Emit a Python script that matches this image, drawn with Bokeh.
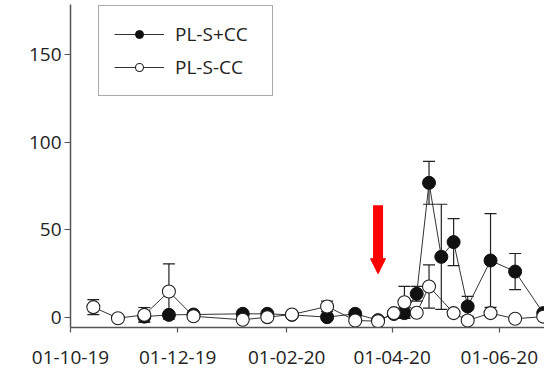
from datetime import datetime
import pandas as pd
from bokeh.plotting import figure
from bokeh.models import (ColumnDataSource, Range1d, FixedTicker, DatetimeTickFormatter,
                          Whisker, TeeHead, Legend, LegendItem, Arrow, NormalHead)
from bokeh.embed import file_html
from bokeh.resources import INLINE

# ---- data ----
with_cc_dates = ["2019-11-12", "2019-11-26", "2019-12-10", "2020-01-07", "2020-01-21",
                 "2020-02-04", "2020-02-24", "2020-03-11", "2020-03-24", "2020-04-02",
                 "2020-04-08", "2020-04-15", "2020-04-22", "2020-04-29", "2020-05-06",
                 "2020-05-14", "2020-05-27", "2020-06-10", "2020-06-26"]
with_cc_vals = [0.5, 1.5, 1.7, 2.1, 2.1, 1.5, 0.2, 2.1, -1.5, 2.0,
                2.5, 13.5, 76.8, 34.6, 43.0, 6.3, 32.5, 26.2, 2.5]
with_cc_err = [3.0, 1.0, 1.0, 1.0, 1.0, 1.0, 1.0, 1.0, 1.0, 1.0,
               3.0, 4.2, 12.2, 30.0, 13.4, 5.7, 26.7, 10.3, 1.0]

no_cc_dates = ["2019-10-14", "2019-10-28", "2019-11-12", "2019-11-26", "2019-12-10",
               "2020-01-07", "2020-01-21", "2020-02-04", "2020-02-24", "2020-03-11",
               "2020-03-24", "2020-04-02", "2020-04-08", "2020-04-15", "2020-04-22",
               "2020-05-06", "2020-05-14", "2020-05-27", "2020-06-10", "2020-06-26"]
no_cc_vals = [5.9, -0.4, 1.5, 14.8, 0.7, -1.3, 0.2, 1.7, 6.3, -1.7,
              -2.1, 2.5, 8.7, 2.7, 17.7, 2.5, -1.7, 2.5, -0.7, 0.5]
no_cc_err = [4.3, 1.0, 4.2, 15.8, 1.0, 1.0, 1.0, 1.0, 3.0, 1.0,
             1.0, 1.0, 9.0, 1.0, 12.3, 1.0, 1.0, 1.0, 1.0, 1.0]

series_labels = ["PL-S+CC", "PL-S-CC"]
y_ticks = [0, 50, 100, 150]
x_tick_dates = ["2019-10-01", "2019-12-01", "2020-02-01", "2020-04-01", "2020-06-01"]
arrow_date = "2020-03-24"
arrow_from, arrow_to = 64.0, 25.0

# ---- sources ----
def make_source(dates, vals, errs):
    d = pd.to_datetime(dates)
    return ColumnDataSource(dict(
        x=d, y=vals,
        upper=[v + e for v, e in zip(vals, errs)],
        lower=[v - e for v, e in zip(vals, errs)],
    ))

src_with = make_source(with_cc_dates, with_cc_vals, with_cc_err)
src_no = make_source(no_cc_dates, no_cc_vals, no_cc_err)

FONT = "Open Sans"
TXT = "#222222"
AX = "#555555"

p = figure(width=544, height=369, x_axis_type="datetime",
           x_range=Range1d(datetime(2019, 10, 1), datetime(2020, 6, 26, 17)),
           y_range=Range1d(-5.7, 178.5),
           output_backend="svg", toolbar_location=None,
           min_border_left=70, min_border_right=0, min_border_top=4, min_border_bottom=42)
p.outline_line_color = None
p.xgrid.visible = False
p.ygrid.visible = False
p.background_fill_color = "white"
p.border_fill_color = "white"

# error bars (behind markers)
for src in (src_with, src_no):
    w = Whisker(base="x", upper="upper", lower="lower", source=src,
                line_color="#222222", line_width=1.2, level="underlay",
                upper_head=TeeHead(size=12, line_color="#222222", line_width=1.2),
                lower_head=TeeHead(size=12, line_color="#222222", line_width=1.2))
    p.add_layout(w)

l1 = p.line("x", "y", source=src_with, line_color="#333333", line_width=1)
l2 = p.line("x", "y", source=src_no, line_color="#333333", line_width=1)
m1 = p.scatter("x", "y", source=src_with, size=13, marker="circle",
               fill_color="#111111", line_color="#111111", line_width=1)
m2 = p.scatter("x", "y", source=src_no, size=13, marker="circle",
               fill_color="white", line_color="#222222", line_width=1.1)

# red arrow
arrow_x = pd.Timestamp(arrow_date)
p.add_layout(Arrow(x_start=arrow_x, y_start=arrow_from, x_end=arrow_x, y_end=arrow_to,
                   line_color="red", line_width=10,
                   end=NormalHead(size=15, fill_color="red", line_color="red", line_width=1)))

# axes
p.yaxis.ticker = FixedTicker(ticks=y_ticks)
p.xaxis.ticker = FixedTicker(ticks=[pd.Timestamp(d).value / 1e6 for d in x_tick_dates])
fmt = "%d-%m-%y"
p.xaxis.formatter = DatetimeTickFormatter(
    milliseconds=fmt, seconds=fmt, minsec=fmt, minutes=fmt, hourmin=fmt, hours=fmt,
    days=fmt, months=fmt, years=fmt, context=None, strip_leading_zeros=False)
for ax in (p.xaxis[0], p.yaxis[0]):
    ax.axis_line_color = AX
    ax.axis_line_width = 1.5
    ax.major_tick_line_color = AX
    ax.major_tick_line_width = 1.2
    ax.major_tick_in = 0
    ax.major_tick_out = 6
    ax.minor_tick_line_color = None
    ax.major_label_text_font = FONT
    ax.major_label_text_font_size = "19px"
    ax.major_label_text_color = TXT
p.xaxis.major_tick_out = 5
p.xaxis.major_label_standoff = 18
p.yaxis.major_label_standoff = 3

# legend
legend = Legend(items=[LegendItem(label=series_labels[0], renderers=[l1, m1]),
                       LegendItem(label=series_labels[1], renderers=[l2, m2])],
                location=(28, 231), margin=0, padding=15, spacing=7,
                glyph_width=50, glyph_height=20, label_standoff=11, label_width=82,
                label_text_font=FONT, label_text_font_size="19px", label_text_color=TXT,
                border_line_color=AX, border_line_width=1.5, background_fill_color="white",
                background_fill_alpha=1.0)
p.add_layout(legend, "center")

open("out.html", "w").write(file_html(p, INLINE))
